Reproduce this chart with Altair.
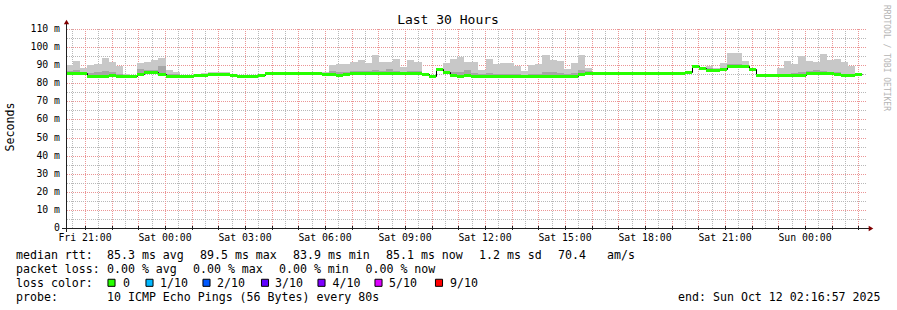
import altair as alt
import pandas as pd
from datetime import datetime, timezone, timedelta

# ---------------- data ----------------
START = datetime(2025, 10, 10, 20, 16, 57, tzinfo=timezone.utc)
END = datetime(2025, 10, 12, 2, 16, 57, tzinfo=timezone.utc)
STEP_SECONDS = 960  # 12 x 80 s consolidation

median_ms = [
    85.7, 85.9, 85.5, 84.1, 84.1, 84.1, 84.8, 84.0, 84.0, 84.0,
    85.1, 86.1, 86.1, 85.2, 84.1, 84.1, 84.1, 84.1, 84.3, 84.8,
    85.3, 85.3, 85.3, 84.5, 83.9, 83.9, 84.2, 84.3, 85.7, 85.7,
    85.7, 85.7, 85.7, 85.7, 85.7, 85.7, 85.3, 84.9, 84.3, 85.1,
    85.7, 85.7, 85.7, 85.7, 85.7, 85.7, 85.7, 85.7, 85.7, 85.7,
    85.1, 84.0, 87.9, 86.2, 84.3, 84.2, 84.6, 84.2, 84.2, 84.2,
    84.2, 84.2, 84.2, 84.2, 84.2, 84.2, 84.2, 84.2, 84.2, 84.2,
    84.2, 84.2, 85.3, 85.7, 85.7, 85.7, 85.7, 85.7, 85.7, 85.7,
    85.7, 85.7, 85.7, 85.7, 85.7, 85.7, 85.7, 86.5, 89.3, 88.2,
    87.6, 87.6, 87.9, 89.5, 89.5, 89.4, 87.9, 84.3, 84.3, 84.3,
    84.3, 84.3, 84.3, 84.8, 85.7, 85.7, 85.7, 85.7, 84.9, 84.3,
    84.3, 85.0,
]

smoke_max_ms = [
    90.0, 92.3, 88.3, 90.0, 90.7, 94.0, 92.0, 89.7, 85.0, 84.6,
    91.4, 92.0, 92.9, 94.2, 87.5, 86.4, 84.5, 84.5, 84.8, 85.9,
    86.2, 86.2, 86.0, 85.2, 84.5, 84.5, 84.8, 84.8, 86.0, 86.0,
    86.0, 86.0, 86.0, 86.0, 86.0, 86.0, 86.0, 89.9, 90.8, 90.8,
    91.8, 92.9, 91.4, 95.6, 91.8, 91.8, 93.4, 89.0, 92.9, 91.8,
    85.5, 84.5, 88.3, 91.4, 93.2, 94.3, 92.0, 92.0, 87.3, 93.6,
    90.5, 91.4, 91.4, 89.7, 86.8, 90.1, 90.8, 95.6, 92.9, 92.5,
    88.1, 91.4, 95.6, 88.7, 86.2, 86.0, 86.0, 86.0, 86.0, 86.0,
    86.0, 86.0, 86.0, 86.0, 86.0, 86.0, 86.0, 86.8, 89.6, 88.5,
    89.7, 88.5, 91.4, 96.6, 96.9, 92.5, 88.2, 84.6, 84.6, 84.6,
    88.3, 92.3, 90.5, 95.1, 92.3, 91.8, 96.2, 92.9, 93.2, 91.8,
    89.5, 85.3,
]

smoke_inner_ms = [
    87.0, 87.2, 86.5, 85.8, 86.4, 87.0, 86.0, 85.2, 84.6, 84.4,
    87.9, 87.4, 87.6, 89.7, 85.3, 85.0, 84.3, 84.3, 84.5, 85.3,
    85.8, 85.8, 85.6, 84.9, 84.2, 84.2, 84.5, 84.5, 85.8, 85.8,
    85.8, 85.8, 85.8, 85.8, 85.8, 85.8, 85.6, 87.0, 86.0, 86.5,
    86.8, 87.0, 86.8, 87.5, 86.6, 87.9, 87.0, 86.5, 86.8, 86.6,
    85.3, 84.2, 88.1, 87.0, 86.0, 86.3, 87.3, 85.5, 85.0, 85.9,
    85.4, 85.2, 85.2, 85.0, 84.8, 85.2, 85.4, 86.5, 86.5, 85.8,
    85.2, 85.5, 87.3, 86.8, 85.8, 85.8, 85.8, 85.8, 85.8, 85.8,
    85.8, 85.8, 85.8, 85.8, 85.8, 85.8, 85.8, 86.6, 89.4, 88.3,
    88.2, 88.0, 88.6, 90.8, 90.6, 90.2, 88.0, 84.4, 84.4, 84.4,
    85.0, 85.4, 85.6, 86.0, 86.6, 87.5, 86.8, 86.4, 86.0, 85.3,
    85.0, 85.1,
]

y_major = list(range(10, 111, 10))
y_minor = list(range(5, 110, 10))
y_tick_labels = ["0"] + [f"{v} m" for v in y_major]

loss_labels = ["0", "1/10", "2/10", "3/10", "4/10", "5/10", "9/10"]
loss_colors = ["#26ff00", "#00b8ff", "#0059ff", "#5e00ff", "#7e00ff", "#dd00ff", "#ff0000"]

title_text = "Last 30 Hours"
y_title = "Seconds"
watermark = "RRDTOOL / TOBI OETIKER"
line1 = ["median rtt:", "85.3 ms avg", "89.5 ms max", "83.9 ms min", "85.1 ms now",
         "1.2 ms sd", "70.4", "am/s"]
line2 = ["packet loss:", "0.00 % avg", "0.00 % max", "0.00 % min", "0.00 % now"]
line3_head = "loss color:"
line4 = ["probe:", "10 ICMP Echo Pings (56 Bytes) every 80s"]
end_text = "end: Sun Oct 12 02:16:57 2025"

# ---------------- tables ----------------
def ms(dt):
    return int(dt.timestamp() * 1000)

start_ms, end_ms = ms(START), ms(END)
step = STEP_SECONDS * 1000

steps = pd.DataFrame({
    "t": [start_ms + k * step for k in range(len(median_ms))],
    "t2": [start_ms + (k + 1) * step for k in range(len(median_ms))],
    "med": median_ms,
    "top": smoke_max_ms,
    "inner": smoke_inner_ms,
})
line_df = pd.DataFrame({
    "t": list(steps["t"]) + [int(steps["t2"].iloc[-1])],
    "med": median_ms + [median_ms[-1]],
})

# grid: red every hour, grey every half hour, labels every 3 hours
h = START.replace(minute=0, second=0) + timedelta(hours=1)
hours = []
while h <= END:
    hours.append(h)
    h += timedelta(hours=1)
halves = [x - timedelta(minutes=30) for x in hours] + [hours[-1] + timedelta(minutes=30)]
halves = [x for x in halves if START < x < END]
label_hours = [x for x in hours if x.hour % 3 == 0]

v_major = pd.DataFrame({"tm": [ms(x) for x in hours]})
v_minor = pd.DataFrame({"tn": [ms(x) for x in halves]})
v_labels = pd.DataFrame({"tl": [ms(x) for x in label_hours],
                         "lab": [x.strftime("%a %H:%M") for x in label_hours]})
h_major = pd.DataFrame({"vm": y_major})
h_minor = pd.DataFrame({"vn": y_minor})
y_lab_df = pd.DataFrame({"vl": [0] + y_major, "lab": y_tick_labels})

# plot area origin in page pixels
OX, OY = 66, 29
W, H = 800, 199
FONT = "DejaVu Sans Mono"

xs = alt.Scale(type="utc", domain=[start_ms, end_ms], nice=False, round=True)
ys = alt.Scale(domain=[0, 110], nice=False, zero=True, round=True)

GRID_MINOR = "#b8b8b8"
GRID_MAJOR = "#eb9595"

vminor = alt.Chart(v_minor).mark_rule(stroke=GRID_MINOR, strokeDash=[1, 1], strokeWidth=1, xOffset=0.5).encode(
    x=alt.X("tn:T", scale=xs, axis=None))
hminor = alt.Chart(h_minor).mark_rule(stroke=GRID_MINOR, strokeDash=[1, 1], strokeWidth=1, yOffset=0.5).encode(
    y=alt.Y("vn:Q", scale=ys, axis=None))
vmajor = alt.Chart(v_major).mark_rule(stroke=GRID_MAJOR, strokeDash=[1, 1], strokeWidth=1, xOffset=0.5).encode(
    x=alt.X("tm:T", scale=xs, axis=None))
hmajor = alt.Chart(h_major).mark_rule(stroke=GRID_MAJOR, strokeDash=[1, 1], strokeWidth=1, yOffset=0.5).encode(
    y=alt.Y("vm:Q", scale=ys, axis=None))

smoke_light = alt.Chart(steps).mark_rect(color="#c8c8c8").encode(
    x=alt.X("t:T", scale=xs, axis=None), x2="t2:T",
    y=alt.Y("top:Q", scale=ys, axis=None), y2="med:Q")
smoke_dark = alt.Chart(steps).mark_rect(color="#a6a6a6").encode(
    x=alt.X("t:T", scale=xs, axis=None), x2="t2:T",
    y=alt.Y("inner:Q", scale=ys, axis=None), y2="med:Q")
black_line = alt.Chart(line_df).mark_line(
    interpolate="step-after", color="black", strokeWidth=1, xOffset=0.5, yOffset=0.5).encode(
    x=alt.X("t:T", scale=xs, axis=None), y=alt.Y("med:Q", scale=ys, axis=None))
green = alt.Chart(steps).mark_rule(stroke=loss_colors[0], strokeWidth=3, strokeCap="butt", yOffset=0.5).encode(
    x=alt.X("t:T", scale=xs, axis=None), x2="t2:T", y=alt.Y("med:Q", scale=ys, axis=None))

# tick labels and ticks, placed through the scales
x_labels = alt.Chart(v_labels).mark_text(
    font=FONT, fontSize=9.8, align="center", baseline="alphabetic", color="black").encode(
    x=alt.X("tl:T", scale=xs, axis=None), y=alt.value(H + 13), text="lab:N")
x_ticks = alt.Chart(v_major).mark_rule(stroke="#202020", strokeWidth=1, xOffset=0.5).encode(
    x=alt.X("tm:T", scale=xs, axis=None), y=alt.value(H - 2), y2=alt.value(H + 2))
y_labels = alt.Chart(y_lab_df).mark_text(
    font=FONT, fontSize=9.8, align="right", baseline="middle", color="black").encode(
    y=alt.Y("vl:Q", scale=ys, axis=None), x=alt.value(-6), text="lab:N")

one = pd.DataFrame({"a": [0]})
yline = alt.Chart(one).mark_rule(stroke="#202020", strokeWidth=1).encode(
    x=alt.value(0.5), y=alt.value(-6), y2=alt.value(H + 4))
xline = alt.Chart(one).mark_rule(stroke="#202020", strokeWidth=1).encode(
    x=alt.value(-4), x2=alt.value(W + 3), y=alt.value(H + 0.5))
yarrow = alt.Chart(one).mark_point(shape="triangle-up", filled=True, size=28, color="#800000", opacity=1).encode(
    x=alt.value(0.5), y=alt.value(-7))
xarrow = alt.Chart(one).mark_point(shape="triangle-right", filled=True, size=28, color="#800000", opacity=1).encode(
    x=alt.value(W + 5), y=alt.value(H + 0.5))

# legend text pieces (page-pixel layout)
l1_x = [16, 107, 200, 293, 386, 479, 558, 607]
l2_x = [16, 107, 193, 279, 365.5]
l3_x = [123, 160, 217, 275, 332.5, 389, 450]
sq_x = [111.5, 149.5, 206.5, 265, 321.5, 378.5, 439]
base_y = [258.5, 272.5, 286.5, 300.5]

layers = [vminor, hminor, vmajor, hmajor, smoke_light, smoke_dark, black_line, green,
          yline, xline, x_ticks, yarrow, xarrow, x_labels, y_labels]


def text_at(s, x, y, align="left", size=11.6, angle=None, color="black", baseline="alphabetic"):
    kw = dict(text=s, font=FONT, fontSize=size, align=align, baseline=baseline, color=color)
    if angle is not None:
        kw["angle"] = angle
    return alt.Chart(one).mark_text(**kw).encode(x=alt.value(x - OX), y=alt.value(y - OY))


for s, x in zip(line1, l1_x):
    layers.append(text_at(s, x, base_y[0]))
for s, x in zip(line2, l2_x):
    layers.append(text_at(s, x, base_y[1]))
layers.append(text_at(line3_head, 16, base_y[2]))
for s, x in zip(loss_labels, l3_x):
    layers.append(text_at(s, x, base_y[2]))
layers.append(text_at(line4[0], 16, base_y[3]))
layers.append(text_at(line4[1], 107, base_y[3]))
layers.append(text_at(end_text, 880.5, base_y[3], align="right"))
layers.append(text_at(title_text, 448, 24, align="center", size=13))
layers.append(text_at(y_title, 11, 127, align="center", angle=270, baseline="middle"))
layers.append(text_at(watermark, 886, 58, align="center", size=8, angle=90,
                      color="#b4b4b4", baseline="middle"))

for c, x in zip(loss_colors, sq_x):
    layers.append(alt.Chart(one).mark_square(size=50, fill=c, stroke="black", strokeWidth=1,
                                             opacity=1).encode(
        x=alt.value(x - OX), y=alt.value(282.8 - OY)))

chart = alt.layer(*layers).properties(
    width=W, height=H,
    autosize=alt.AutoSizeParams(type="none"),
    padding={"left": OX, "top": OY, "right": 897 - OX - W, "bottom": 310 - OY - H},
    background="white",
).configure_view(stroke=None)

chart.save("out.html", embed_options={"renderer": "svg", "actions": False})
